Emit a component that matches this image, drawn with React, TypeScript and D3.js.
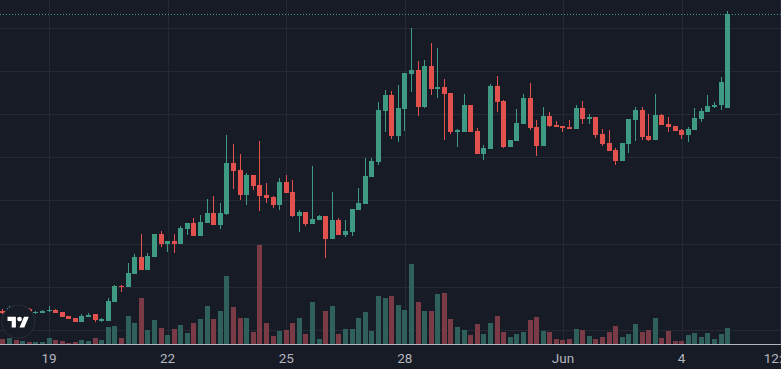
import React from 'react';
import * as d3 from 'd3';

// 4-hour candles, first bar opens 2024-05-17 20:00 UTC
const FIRST_BAR = '2024-05-17T20:00:00Z';
const BAR_HOURS = 4;

const opens = [
  104.40, 104.63, 105.09, 104.40, 104.86, 103.86, 104.00, 104.33, 104.63, 104.17,
  103.24, 102.78, 101.92, 103.01, 103.63, 102.15, 102.15, 106.55, 110.18, 110.02,
  113.03, 116.89, 113.95, 116.96, 122.21, 119.90, 120.59, 119.90, 123.37, 124.76,
  121.75, 124.76, 127.07, 124.30, 126.84, 138.64, 137.02, 131.24, 135.87, 133.55,
  131.24, 130.78, 128.93, 134.25, 131.93, 126.38, 127.31, 124.53, 125.45, 126.38,
  121.06, 125.45, 121.98, 122.68, 127.77, 129.16, 135.40, 138.88, 150.68, 154.38,
  144.89, 151.14, 159.24, 160.17, 151.60, 161.09, 155.77, 156.23, 154.84, 145.82,
  145.82, 152.07, 146.05, 140.73, 141.88, 156.46, 152.99, 142.35, 143.73, 147.67,
  153.68, 146.98, 142.58, 149.52, 147.44, 147.21, 146.98, 146.51, 151.37, 148.83,
  149.29, 145.35, 143.27, 141.65, 139.11, 143.04, 148.60, 150.91, 144.89, 143.97,
  149.75, 147.67, 147.21, 146.28, 145.12, 146.28, 148.83, 150.45, 151.60, 152.07,
  151.37,
];
const highs = [
  104.86, 105.55, 105.32, 105.09, 105.09, 104.40, 104.63, 105.55, 104.86, 104.17,
  103.24, 102.78, 103.70, 104.00, 103.70, 102.78, 107.34, 110.41, 110.41, 115.50,
  117.66, 122.21, 117.82, 122.21, 122.91, 120.59, 122.21, 124.07, 124.76, 125.92,
  126.61, 130.31, 131.01, 129.39, 145.12, 143.04, 140.73, 136.33, 135.87, 143.73,
  134.02, 131.01, 135.17, 135.87, 134.71, 127.77, 127.31, 137.95, 126.61, 126.38,
  131.93, 125.92, 125.45, 128.00, 132.86, 139.80, 139.80, 152.76, 155.54, 155.31,
  156.69, 159.47, 169.88, 162.25, 162.48, 166.41, 165.25, 158.08, 154.84, 146.51,
  154.61, 152.07, 146.74, 142.81, 156.92, 158.78, 153.22, 143.97, 151.14, 154.61,
  157.16, 148.60, 151.60, 150.45, 148.36, 147.21, 148.60, 152.07, 152.99, 149.98,
  149.29, 146.51, 146.28, 142.11, 143.27, 148.83, 151.60, 151.60, 149.98, 154.61,
  149.98, 149.29, 147.21, 146.51, 146.98, 151.37, 151.37, 154.38, 152.76, 158.54,
  173.82,
];
const lows = [
  103.70, 104.40, 104.40, 104.17, 103.93, 103.70, 103.93, 104.28, 103.93, 103.01,
  102.55, 101.85, 101.85, 103.01, 101.78, 101.85, 102.08, 106.48, 108.86, 109.95,
  112.96, 113.88, 113.88, 116.89, 119.28, 118.12, 117.89, 119.90, 121.98, 121.75,
  121.75, 124.76, 124.30, 123.37, 126.61, 132.63, 130.08, 128.93, 132.40, 127.54,
  129.39, 128.23, 127.77, 131.70, 126.15, 122.68, 124.07, 124.53, 125.45, 116.66,
  121.06, 121.98, 121.52, 121.75, 127.77, 129.16, 135.40, 138.18, 145.82, 144.20,
  143.50, 146.05, 155.07, 149.52, 151.37, 154.38, 153.68, 143.97, 145.35, 142.35,
  145.82, 145.82, 140.73, 139.34, 141.88, 150.45, 142.11, 142.35, 143.73, 147.67,
  146.28, 140.26, 142.58, 146.98, 146.98, 145.82, 146.51, 146.51, 147.67, 147.67,
  144.43, 142.58, 141.42, 138.18, 139.11, 140.96, 143.73, 143.97, 143.73, 143.97,
  147.44, 145.82, 146.05, 144.20, 143.50, 146.28, 148.13, 150.45, 151.37, 150.91,
  151.37,
];
const closes = [
  103.93, 105.09, 104.63, 104.86, 104.17, 104.23, 104.47, 104.70, 104.00, 103.08,
  102.61, 101.92, 103.24, 103.47, 102.31, 102.48, 106.71, 110.18, 109.95, 113.19,
  116.89, 113.95, 117.12, 122.21, 119.90, 120.59, 119.90, 123.60, 124.76, 121.75,
  124.99, 127.07, 124.30, 127.07, 138.64, 136.79, 131.24, 135.87, 133.32, 131.01,
  130.54, 128.93, 134.25, 131.70, 126.38, 127.31, 124.53, 125.69, 126.38, 121.06,
  125.45, 121.98, 122.91, 128.00, 129.39, 135.64, 139.11, 150.91, 154.38, 144.89,
  151.37, 159.47, 160.17, 151.60, 161.09, 155.77, 156.23, 154.61, 145.82, 146.28,
  152.07, 145.82, 140.73, 142.11, 156.46, 152.76, 142.35, 143.97, 147.90, 153.68,
  146.74, 142.58, 149.52, 147.21, 146.98, 146.74, 146.51, 151.37, 148.83, 149.29,
  145.12, 143.04, 141.42, 139.11, 143.27, 148.83, 150.91, 144.66, 143.97, 149.75,
  147.44, 146.98, 146.05, 145.12, 146.51, 149.06, 150.68, 151.83, 152.07, 157.39,
  173.12,
];
const volumes = [
  50, 60, 40, 30, 20, 20, 20, 60, 40, 30,
  10, 20, 40, 30, 60, 40, 170, 180, 60, 280,
  210, 460, 140, 240, 160, 90, 150, 190, 110, 210,
  250, 380, 250, 330, 680, 370, 260, 260, 120, 990,
  210, 80, 130, 140, 210, 260, 100, 420, 50, 330,
  380, 100, 150, 150, 260, 320, 130, 480, 460, 480,
  390, 340, 800, 420, 330, 330, 500, 510, 250, 170,
  140, 90, 200, 100, 210, 280, 120, 70, 100, 120,
  240, 270, 130, 120, 50, 40, 50, 150, 140, 80,
  50, 70, 120, 180, 70, 100, 200, 120, 140, 260,
  60, 130, 30, 30, 90, 110, 70, 110, 50, 100,
  160,
];

const tickDates = [
  '2024-05-19T00:00:00Z', '2024-05-22T00:00:00Z', '2024-05-25T00:00:00Z',
  '2024-05-28T00:00:00Z', '2024-06-01T00:00:00Z', '2024-06-04T00:00:00Z',
  '2024-06-06T12:00:00Z',
];
const tickLabels = ['19', '22', '25', '28', 'Jun', '4', '12:00'];
const priceGrid = [100, 110, 120, 130, 140, 150, 160, 170];

const BG = '#171b26';
const GRID = '#252935';
const UP = '#3f9a84';
const DOWN = '#e2514e';
const UP_VOL = '#2f605b';
const DOWN_VOL = '#7a3b46';
const TEXT = '#b2b5be';

export default function App() {
  const W = 781;
  const H = 369;
  const t0 = new Date(FIRST_BAR).getTime();
  const bars = opens.map((o, i) => ({
    t: new Date(t0 + i * BAR_HOURS * 3600 * 1000),
    o, h: highs[i], l: lows[i], c: closes[i], v: volumes[i],
  }));

  const x = d3.scaleUtc()
    .domain([new Date('2024-05-19T00:00:00Z'), new Date('2024-06-04T00:00:00Z')])
    .range([49, 681.6]);
  const y = d3.scaleLinear().domain([100, 170]).range([330, 27.5]);
  const vy = d3.scaleLinear().domain([0, d3.max(volumes) as number]).range([344, 245]);

  const bodyW = 5;
  const last = closes[closes.length - 1];
  const lastY = Math.round(y(last)) + 0.5;

  return (
    <svg width={W} height={H} style={{ position: 'fixed', left: 0, top: 0, display: 'block' }}
      fontFamily="Roboto, 'Noto Sans', sans-serif">
      <rect x={0} y={0} width={W} height={H} fill={BG} />
      {/* grid */}
      <g shapeRendering="crispEdges">
        {priceGrid.map((p) => (
          <line key={'h' + p} x1={0} x2={W} y1={Math.round(y(p)) + 0.5} y2={Math.round(y(p)) + 0.5}
            stroke={GRID} strokeWidth={1} />
        ))}
        {tickDates.map((d) => {
          const xx = Math.round(x(new Date(d))) + 0.5;
          return <line key={'v' + d} x1={xx} x2={xx} y1={0} y2={344} stroke={GRID} strokeWidth={1} />;
        })}
      </g>
      {/* volume */}
      <g shapeRendering="crispEdges">
        {bars.map((b, i) => {
          const cx = x(b.t);
          const left = Math.round(cx - bodyW / 2);
          const top = vy(b.v);
          return (
            <rect key={'v' + i} x={left} y={top} width={bodyW} height={344 - top}
              fill={b.c >= b.o ? UP_VOL : DOWN_VOL} />
          );
        })}
      </g>
      {/* last price line */}
      <line x1={0} x2={W} y1={lastY} y2={lastY} stroke={UP} strokeWidth={1} strokeDasharray="1,2" />
      {/* candles */}
      <g shapeRendering="crispEdges">
        {bars.map((b, i) => {
          const cx = x(b.t);
          const left = Math.round(cx - bodyW / 2);
          const col = b.c >= b.o ? UP : DOWN;
          const top = Math.min(y(b.o), y(b.c));
          const bh = Math.max(1, Math.abs(y(b.o) - y(b.c)));
          return (
            <g key={'c' + i}>
              <rect x={left + 2} y={y(b.h)} width={1} height={Math.max(1, y(b.l) - y(b.h))} fill={col} />
              <rect x={left} y={top} width={bodyW} height={bh} fill={col} />
            </g>
          );
        })}
      </g>
      {/* time axis */}
      <line x1={0} x2={W} y1={344.5} y2={344.5} stroke={TEXT} strokeWidth={1} shapeRendering="crispEdges" />
      {tickDates.map((d, i) => (
        <text key={'t' + d} x={x(new Date(d))} y={363} textAnchor="middle" fontSize={13.5} fill={TEXT}>
          {tickLabels[i]}
        </text>
      ))}
      {/* logo */}
      <g>
        <circle cx={18.3} cy={321.7} r={16.5} fill={BG} stroke="#2a2e39" strokeWidth={1} />
        <g transform="translate(7.5,314.3) scale(0.6)" fill="#ffffff">
          <path d="M0 4H14V22H7V11H0Z" />
          <circle cx={20} cy={8} r={4} />
          <path d="M20 22L27.5 4H35.5L28 22Z" />
        </g>
      </g>
    </svg>
  );
}
